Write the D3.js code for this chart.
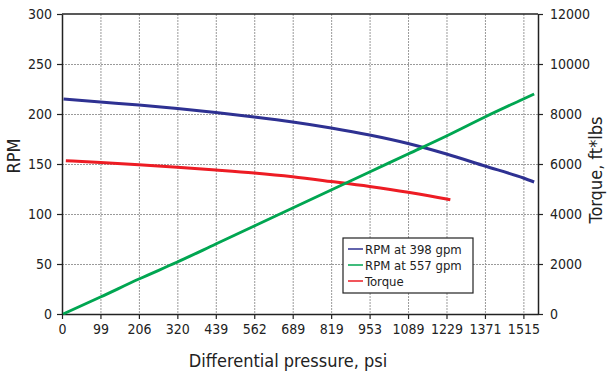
<!DOCTYPE html>
<html>
<head>
<meta charset="utf-8">
<script src="https://cdn.jsdelivr.net/npm/d3@7"></script>
<style>
  body { margin: 0; background: #fff; }
  svg text { font-family: "DejaVu Sans Condensed", "DejaVu Sans", sans-serif; fill: #222; }
</style>
</head>
<body>
<div id="chart"></div>
<script>
// x positions are in tick-step units (0 = "0", 12 = "1515")
const pressureLabels = ['0', '99', '206', '320', '439', '562', '689', '819', '953', '1089', '1229', '1371', '1515'];

const rpm398X = [0.04, 1, 2, 3, 4, 5, 6, 7, 8, 9, 10, 11, 12, 12.28];
const rpm398 = [215, 212, 209, 205.5, 201.5, 197, 192, 186, 179, 170.5, 160, 148, 136, 132];

const rpm557X = [0.03, 1, 2, 3, 4, 5, 6, 7, 8, 9, 10, 11, 12, 12.28];
const rpm557 = [0, 17, 35, 52, 70, 88, 106, 124, 142, 160, 178, 197, 215, 220];

const torqueX = [0.1, 1, 2, 3, 4, 5, 6, 7, 8, 9, 10, 10.1];
const torque = [6130, 6060, 5970, 5870, 5760, 5640, 5490, 5300, 5100, 4870, 4600, 4570];

const rpmTicks = [0, 50, 100, 150, 200, 250, 300];
const torqueTicks = [0, 2000, 4000, 6000, 8000, 10000, 12000];

const width = 607, height = 374;
const margin = { left: 62, right: 69, top: 14, bottom: 60 };

const svg = d3.select('#chart').append('svg')
    .attr('width', width)
    .attr('height', height);

const x = d3.scaleLinear().domain([0, 12.38]).range([margin.left, width - margin.right]);
const y = d3.scaleLinear().domain([0, 300]).range([height - margin.bottom, margin.top]);
const y2 = d3.scaleLinear().domain([0, 12000]).range([height - margin.bottom, margin.top]);

// Grid
const grid = svg.append('g')
    .attr('stroke', '#9a9a9a')
    .attr('stroke-width', 1)
    .attr('stroke-dasharray', '2,1');

grid.selectAll('line.v')
    .data(d3.range(1, pressureLabels.length))
    .join('line')
    .attr('x1', d => x(d) + 0.5).attr('x2', d => x(d) + 0.5)
    .attr('y1', y(300)).attr('y2', y(0));

grid.selectAll('line.h')
    .data(rpmTicks.slice(1, -1))
    .join('line')
    .attr('x1', x(0)).attr('x2', x(12.38))
    .attr('y1', d => y(d) + 0.5).attr('y2', d => y(d) + 0.5);

// Top frame line
svg.append('line')
    .attr('x1', x(0)).attr('x2', x(12.38))
    .attr('y1', y(300)).attr('y2', y(300))
    .attr('stroke', '#222').attr('stroke-width', 1.5);

// Axes
const xAxis = svg.append('g')
    .attr('transform', `translate(0,${y(0)})`)
    .call(d3.axisBottom(x)
        .tickValues(d3.range(pressureLabels.length))
        .tickFormat(i => pressureLabels[i])
        .tickSizeInner(5).tickSizeOuter(0).tickPadding(5));

const yAxis = svg.append('g')
    .attr('transform', `translate(${x(0)},0)`)
    .call(d3.axisLeft(y).tickValues(rpmTicks).tickSizeInner(5).tickSizeOuter(0).tickPadding(5));

const y2Axis = svg.append('g')
    .attr('transform', `translate(${x(12.38)},0)`)
    .call(d3.axisRight(y2).tickValues(torqueTicks).tickFormat(d3.format('d'))
        .tickSizeInner(5).tickSizeOuter(0).tickPadding(7));

[xAxis, yAxis, y2Axis].forEach(a => {
    a.select('.domain').attr('stroke', '#222').attr('stroke-width', 1.5);
    a.selectAll('.tick line').attr('stroke', '#222').attr('stroke-width', 1.2);
    a.selectAll('.tick text').attr('font-size', '14px').attr('fill', '#222');
});

// Lines
const line = d3.line().curve(d3.curveMonotoneX);

function drawSeries(xs, vs, scale, color) {
    svg.append('path')
        .datum(xs.map((d, i) => [x(d), scale(vs[i])]))
        .attr('d', line)
        .attr('fill', 'none')
        .attr('stroke', color)
        .attr('stroke-width', 3);
}

drawSeries(rpm398X, rpm398, y, '#2e3192');
drawSeries(torqueX, torque, y2, '#ed1c24');
drawSeries(rpm557X, rpm557, y, '#00a651');

// Axis titles
svg.append('text')
    .attr('x', 288).attr('y', 367)
    .attr('text-anchor', 'middle')
    .attr('font-size', '18px')
    .text('Differential pressure, psi');

svg.append('text')
    .attr('transform', 'translate(20,156) rotate(-90)')
    .attr('text-anchor', 'middle')
    .attr('font-size', '18px')
    .text('RPM');

svg.append('text')
    .attr('transform', 'translate(602,170) rotate(-90)')
    .attr('text-anchor', 'middle')
    .attr('font-size', '18px')
    .text('Torque, ft*lbs');

// Legend
const legendItems = [
    { label: 'RPM at 398 gpm', color: '#2e3192' },
    { label: 'RPM at 557 gpm', color: '#00a651' },
    { label: 'Torque', color: '#ed1c24' }
];

const legend = svg.append('g').attr('transform', 'translate(343,238)');

legend.append('rect')
    .attr('width', 130).attr('height', 55)
    .attr('fill', '#fff')
    .attr('stroke', '#222').attr('stroke-width', 1.2);

const item = legend.selectAll('g.item')
    .data(legendItems)
    .join('g')
    .attr('transform', (d, i) => `translate(0,${11 + i * 16})`);

item.append('line')
    .attr('x1', 5).attr('x2', 20)
    .attr('stroke', d => d.color)
    .attr('stroke-width', 1.5);

item.append('text')
    .attr('x', 22).attr('y', 5)
    .attr('font-size', '13px')
    .text(d => d.label);
</script>
</body>
</html>
